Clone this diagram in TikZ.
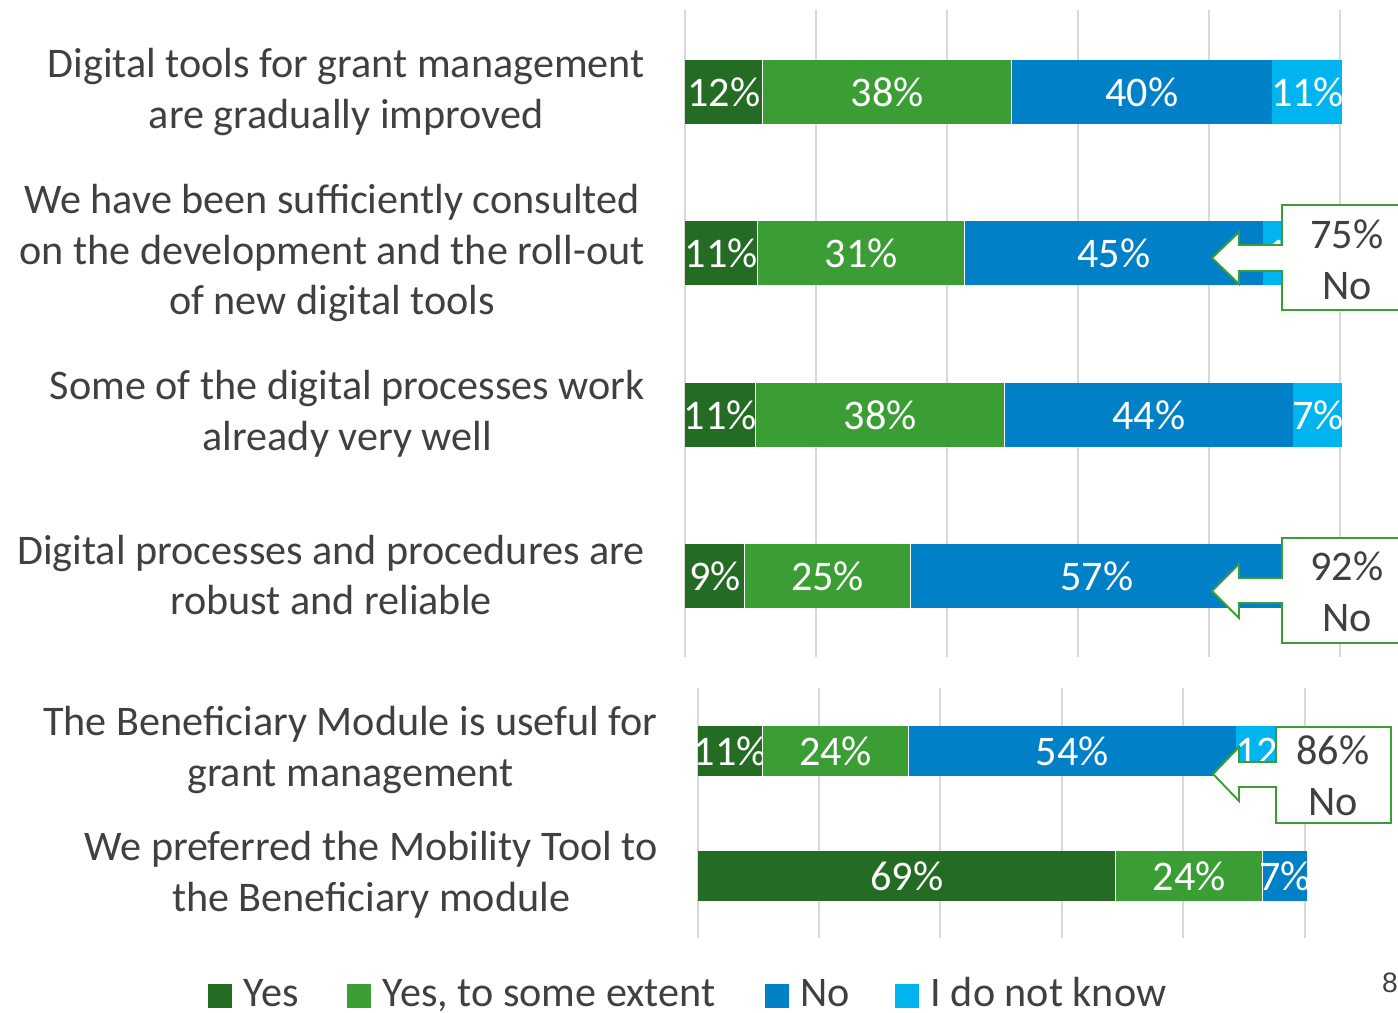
\documentclass[tikz,border=0pt]{standalone}
\usepackage{fontspec}
\setmainfont{Carlito}
\newfontfamily\pagefont{Liberation Sans}
\usetikzlibrary{positioning}
\definecolor{yescol}{HTML}{246B24}
\definecolor{somecol}{HTML}{3A9E35}
\definecolor{nocol}{HTML}{0080C6}
\definecolor{dunnocol}{HTML}{00B5EF}
\definecolor{gridcol}{HTML}{D9D9D9}
\definecolor{txtcol}{HTML}{404040}
\newcommand\bigfont{\fontsize{24}{29}\selectfont}
\tikzset{
gridline/.style={draw=gridcol, line width=1.1pt},
segtop/.style={rectangle, inner sep=0pt, anchor=west, minimum height=1.28cm},
segbot/.style={rectangle, inner sep=0pt, anchor=west, minimum height=1.0cm},
pw/.style={minimum width=#1*0.02cm},
pct/.style={label={[text=white, font=\bigfont, inner sep=0pt]center:#1}},
rowlabel/.style={anchor=east, align=center, inner sep=0pt, text=txtcol, font=\bigfont},
callout/.style={draw=somecol, fill=white, line width=1.1pt},
callouttext/.style={align=center, text=txtcol, font=\bigfont, inner sep=0pt},
legendbox/.style={rectangle, inner sep=0pt, minimum size=0.48cm},
legendtext/.style={anchor=west, text=txtcol, font=\bigfont, inner sep=0pt, text height=17pt, text depth=5pt},
}

\begin{document}
\begin{tikzpicture}[x=0.02cm, y=-0.02cm]
\useasboundingbox (0,0) rectangle (1398,1013);

\draw[gridline] (685,10) -- (685,657);
\draw[gridline] (816,10) -- (816,657);
\draw[gridline] (947,10) -- (947,657);
\draw[gridline] (1078,10) -- (1078,657);
\draw[gridline] (1209,10) -- (1209,657);
\draw[gridline] (1340,10) -- (1340,657);
\draw[gridline] (698,688) -- (698,938);
\draw[gridline] (819,688) -- (819,938);
\draw[gridline] (940,688) -- (940,938);
\draw[gridline] (1062,688) -- (1062,938);
\draw[gridline] (1183,688) -- (1183,938);
\draw[gridline] (1305,688) -- (1305,938);

\node[rowlabel] at (645,92) (q1) {Digital tools for grant management\\are gradually improved};
\node[rowlabel] at (645,253) (q2) {We have been sufficiently consulted\\on the development and the roll-out\\of new digital tools};
\node[rowlabel] at (645,414) (q3) {Some of the digital processes work\\already very well};
\node[rowlabel] at (645,575) (q4) {Digital processes and procedures are\\robust and reliable};
\node[rowlabel] at (658,750) (q5) {The Beneficiary Module is useful for\\grant management};
\node[rowlabel] at (658,875) (q6) {We preferred the Mobility Tool to\\the Beneficiary module};

\node[segtop, pw=77, fill=yescol, pct=12\%] at (685,92) (b1a) {};
\node[segtop, pw=248, fill=somecol, pct=38\%] at (b1a.east) (b1b) {};
\node[segtop, pw=260, fill=nocol, pct=40\%] at (b1b.east) (b1c) {};
\node[segtop, pw=70, fill=dunnocol, pct=11\%] at (b1c.east) (b1d) {};

\node[segtop, pw=72, fill=yescol, pct=11\%] at (685,253) (b2a) {};
\node[segtop, pw=206, fill=somecol, pct=31\%] at (b2a.east) (b2b) {};
\node[segtop, pw=298, fill=nocol, pct=45\%] at (b2b.east) (b2c) {};
\node[segtop, pw=79, fill=dunnocol, pct=13\%] at (b2c.east) (b2d) {};

\node[segtop, pw=70, fill=yescol, pct=11\%] at (685,415) (b3a) {};
\node[segtop, pw=248, fill=somecol, pct=38\%] at (b3a.east) (b3b) {};
\node[segtop, pw=288, fill=nocol, pct=44\%] at (b3b.east) (b3c) {};
\node[segtop, pw=49, fill=dunnocol, pct=7\%] at (b3c.east) (b3d) {};

\node[segtop, pw=59, fill=yescol, pct=9\%] at (685,576) (b4a) {};
\node[segtop, pw=165, fill=somecol, pct=25\%] at (b4a.east) (b4b) {};
\node[segtop, pw=372, fill=nocol, pct=57\%] at (b4b.east) (b4c) {};
\node[segtop, pw=59, fill=dunnocol] at (b4c.east) (b4d) {};

\node[segbot, pw=64, fill=yescol, pct=11\%] at (698,751) (b5a) {};
\node[segbot, pw=145, fill=somecol, pct=24\%] at (b5a.east) (b5b) {};
\node[segbot, pw=327, fill=nocol, pct=54\%] at (b5b.east) (b5c) {};
\node[segbot, pw=71, fill=dunnocol, pct=12\%] at (b5c.east) (b5d) {};

\node[segbot, pw=417, fill=yescol, pct=69\%] at (698,876) (b6a) {};
\node[segbot, pw=146, fill=somecol, pct=24\%] at (b6a.east) (b6b) {};
\node[segbot, pw=44, fill=nocol, pct=7\%] at (b6b.east) (b6c) {};

\draw[callout] (1410,205) -- (1282,205) -- (1282,245) -- (1239,245) -- (1239,232) -- (1212,258)
  -- (1239,284) -- (1239,271) -- (1282,271) -- (1282,310) -- (1410,310) -- cycle;
\node[callouttext] at (1347,260) (c1) {75\%\\No};

\draw[callout] (1410,538) -- (1282,538) -- (1282,578) -- (1239,578) -- (1239,564) -- (1212,591)
  -- (1239,618) -- (1239,603) -- (1282,603) -- (1282,643) -- (1410,643) -- cycle;
\node[callouttext] at (1347,592) (c2) {92\%\\No};

\draw[callout] (1391,727) -- (1276,727) -- (1276,762) -- (1239,762) -- (1239,747) -- (1213,774)
  -- (1239,801) -- (1239,787) -- (1276,787) -- (1276,823) -- (1391,823) -- cycle;
\node[callouttext] at (1333,776) (c3) {86\%\\No};

\node[legendbox, fill=yescol] at (220,996) (lg1) {};
\node[legendtext, right=0.22cm of lg1] (lt1) {Yes};
\node[legendbox, fill=somecol] at (359,996) (lg2) {};
\node[legendtext, right=0.22cm of lg2] (lt2) {Yes, to some extent};
\node[legendbox, fill=nocol] at (777,996) (lg3) {};
\node[legendtext, right=0.22cm of lg3] (lt3) {No};
\node[legendbox, fill=dunnocol] at (907,996) (lg4) {};
\node[legendtext, right=0.22cm of lg4] (lt4) {I do not know};

\node[text=txtcol, font=\pagefont\fontsize{16}{18}\selectfont, inner sep=0pt] at (1390,983) (pg) {8};
\end{tikzpicture}
\end{document}
